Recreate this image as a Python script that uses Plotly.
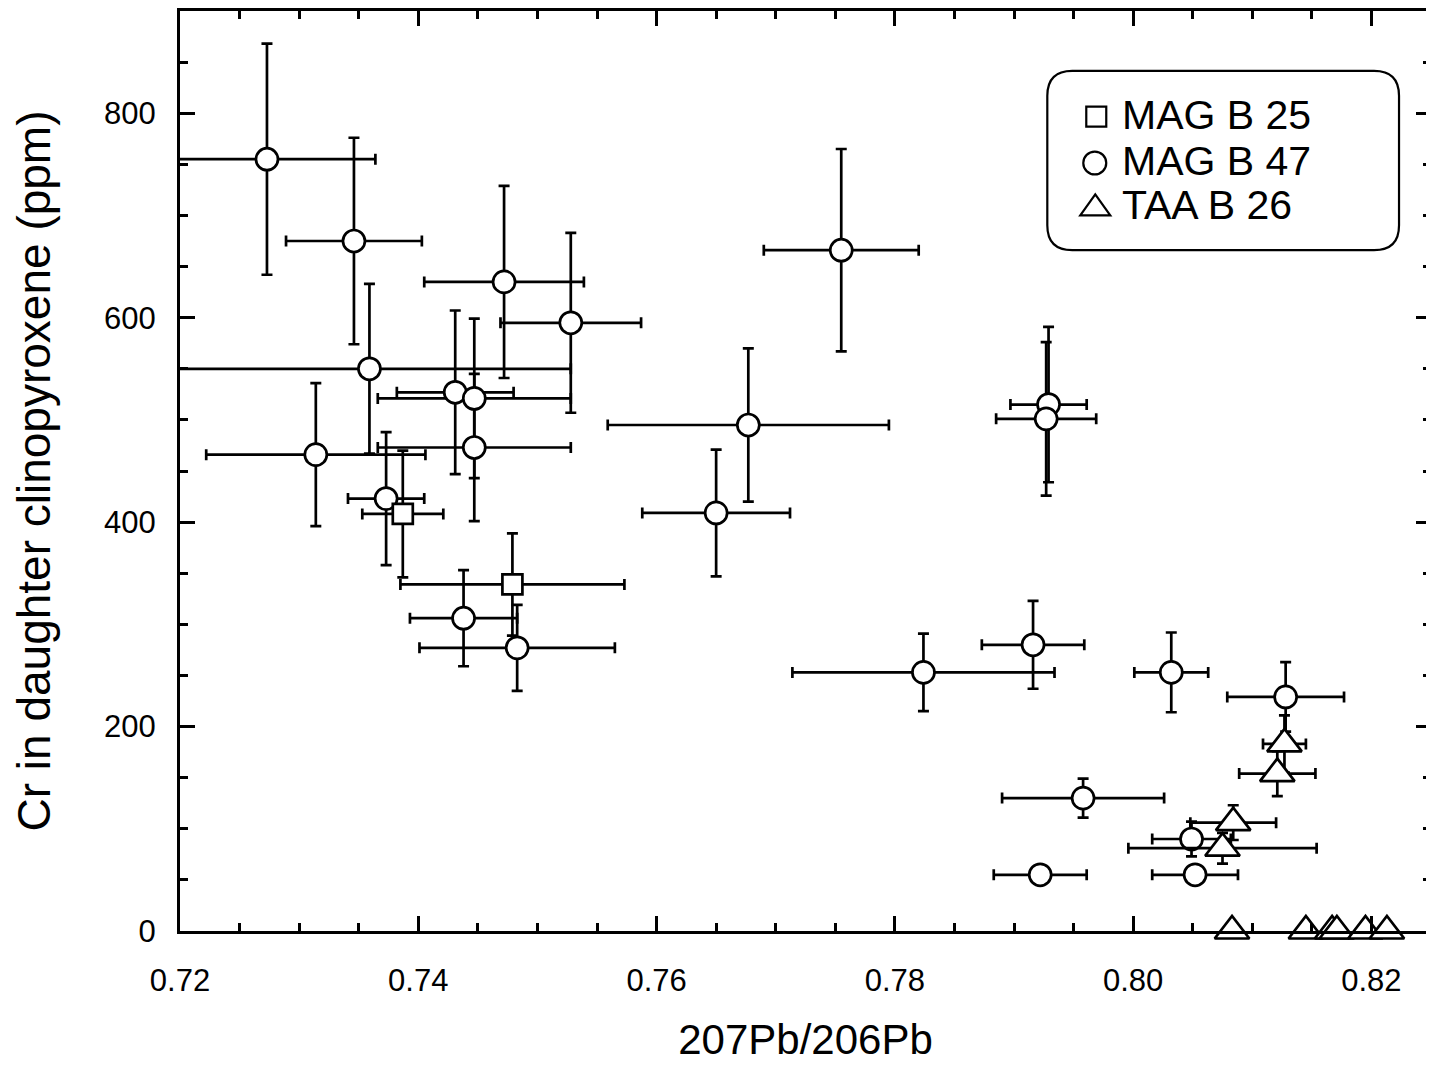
import plotly.graph_objects as go

# ---------------- data ----------------
# MAG B 25 (squares)
b25_x = [0.7387, 0.7479]
b25_y = [408, 339]
b25_xerr = [0.0034, 0.0094]
b25_yerr = [62, 50]

# MAG B 47 (circles)
b47_x = [0.7273, 0.7346, 0.7472, 0.7528, 0.7359, 0.7314, 0.7431, 0.7447, 0.7447,
         0.7373, 0.7438, 0.7483, 0.7677, 0.7650, 0.7755, 0.7824, 0.7916, 0.7929,
         0.7927, 0.8032, 0.8128, 0.8049, 0.8052, 0.7922, 0.7958]
b47_y = [755, 675, 635, 595, 550, 466, 527, 521, 473,
         423, 306, 277, 495, 409, 666, 253, 280, 515,
         501, 253, 229, 90, 55, 55, 130]
b47_xerr = [0.0091, 0.0057, 0.0067, 0.0059, 0.0169, 0.0092, 0.0049, 0.0081, 0.0081,
            0.0032, 0.0045, 0.0082, 0.0118, 0.0062, 0.0065, 0.0110, 0.0043, 0.0032,
            0.0042, 0.0031, 0.0049, 0.0033, 0.0036, 0.0039, 0.0068]
b47_yerr = [113, 101, 94, 88, 83, 70, 80, 78, 72,
            65, 47, 42, 75, 62, 99, 38, 43, 76,
            75, 39, 34, 17, 0, 0, 19]

# TAA B 26 (triangles)
b26_x = [0.8127, 0.8121, 0.8084, 0.8075]
b26_y = [183, 154, 106, 81]
b26_xerr = [0.0018, 0.0032, 0.0036, 0.0079]
b26_yerr = [28, 22, 17, 15]
# TAA B 26 analyses plotted on the axis (Cr = 0)
b26_zero_x = [0.8083, 0.8145, 0.8167, 0.8171, 0.8195, 0.8213]
b26_zero_y = [0, 0, 0, 0, 0, 0]

series_names = ["MAG B 25", "MAG B 47", "TAA B 26"]

x_ticks = [0.72, 0.74, 0.76, 0.78, 0.80, 0.82]
x_ticklabels = ["0.72", "0.74", "0.76", "0.78", "0.80", "0.82"]
y_ticks = [0, 200, 400, 600, 800]

# ---------------- styling ----------------
FONT = "Liberation Sans, Arial, Helvetica, sans-serif"
INK = "black"
ERR_W = 2.7
CAP = 5.5
MLW = 2.7


def err(vals):
    return dict(type="data", array=vals, visible=True, color=INK,
                thickness=ERR_W, width=CAP)


fig = go.Figure()

fig.add_trace(go.Scatter(
    x=b47_x, y=b47_y, mode="markers", name=series_names[1],
    error_x=err(b47_xerr), error_y=err(b47_yerr),
    marker=dict(symbol="circle", size=22, color="white",
                line=dict(color=INK, width=MLW)),
    cliponaxis=True,
))
fig.add_trace(go.Scatter(
    x=b25_x, y=b25_y, mode="markers", name=series_names[0],
    error_x=err(b25_xerr), error_y=err(b25_yerr),
    marker=dict(symbol="square", size=20, color="white",
                line=dict(color=INK, width=MLW)),
    cliponaxis=True,
))
fig.add_trace(go.Scatter(
    x=b26_x, y=b26_y, mode="markers", name=series_names[2],
    error_x=err(b26_xerr), error_y=err(b26_yerr),
    marker=dict(symbol="triangle-up", size=30, color="white",
                line=dict(color=INK, width=MLW)),
    cliponaxis=True,
))
fig.add_trace(go.Scatter(
    x=b26_zero_x, y=b26_zero_y, mode="markers", name=series_names[2],
    marker=dict(symbol="triangle-up", size=30, color="white",
                line=dict(color=INK, width=MLW)),
    cliponaxis=False,
))

# ---------------- page geometry ----------------
# the browser puts the figure 8 px in from the page's top-left corner
PAGE_OFF = 8
PAGE_W, PAGE_H = 1434, 1068
PLOT_L, PLOT_R, PLOT_T, PLOT_B = 180, 1432, 8, 931   # plot area on the page
W, H = PAGE_W - PAGE_OFF, PAGE_H - PAGE_OFF
ML = PLOT_L - PAGE_OFF
MT = PLOT_T - PAGE_OFF
MR = W - (PLOT_R - PAGE_OFF)
MB = H - (PLOT_B - PAGE_OFF)
PW, PH = PLOT_R - PLOT_L, PLOT_B - PLOT_T


def px2paper(px, py):
    return (px - PLOT_L) / PW, (PLOT_B - py) / PH


def rounded_box(x0, y0, x1, y1, r):
    rx, ry = r / PW, r / PH
    a0, b1 = px2paper(x0, y0)
    a1, b0 = px2paper(x1, y1)
    return (f"M {a0+rx},{b1} L {a1-rx},{b1} Q {a1},{b1} {a1},{b1-ry} "
            f"L {a1},{b0+ry} Q {a1},{b0} {a1-rx},{b0} "
            f"L {a0+rx},{b0} Q {a0},{b0} {a0},{b0+ry} "
            f"L {a0},{b1-ry} Q {a0},{b1} {a0+rx},{b1} Z")


# ---------------- legend (drawn by hand: rounded frame) ----------------
fig.add_shape(type="path", xref="paper", yref="paper",
              path=rounded_box(1048, 68, 1400, 248, 25),
              line=dict(color=INK, width=2.2), fillcolor="white", layer="below")

LW = 2.2
# square symbol
sx0, sy0 = px2paper(1087, 104)
sx1, sy1 = px2paper(1107, 124)
fig.add_shape(type="rect", xref="paper", yref="paper",
              x0=sx0, y0=sy1, x1=sx1, y1=sy0,
              line=dict(color=INK, width=LW), fillcolor="white")
# circle symbol
cx0, cy0 = px2paper(1084, 149)
cx1, cy1 = px2paper(1107, 172)
fig.add_shape(type="circle", xref="paper", yref="paper",
              x0=cx0, y0=cy1, x1=cx1, y1=cy0,
              line=dict(color=INK, width=LW), fillcolor="white")
# triangle symbol
ta = px2paper(1081, 213)
tb = px2paper(1111, 213)
tc = px2paper(1096, 192)
fig.add_shape(type="path", xref="paper", yref="paper",
              path=f"M {ta[0]},{ta[1]} L {tb[0]},{tb[1]} L {tc[0]},{tc[1]} Z",
              line=dict(color=INK, width=LW), fillcolor="white")

for name, py in zip(series_names, [112, 158, 203]):
    ax_, ay_ = px2paper(1121, py)
    fig.add_annotation(x=ax_, y=ay_, xref="paper", yref="paper",
                       text=name, showarrow=False, xanchor="left", yanchor="middle",
                       font=dict(family=FONT, size=41, color=INK))

axis_common = dict(
    showline=True, linecolor=INK, linewidth=3, mirror="ticks",
    ticks="inside", ticklen=15, tickwidth=3, tickcolor=INK,
    showgrid=False, zeroline=False,
    tickfont=dict(family=FONT, size=31, color=INK),
)

fig.update_layout(
    width=W, height=H,
    margin=dict(l=ML, r=MR, t=MT, b=MB, pad=0),
    paper_bgcolor="white", plot_bgcolor="white",
    font=dict(family=FONT, color=INK),
    showlegend=False,
    xaxis=dict(
        range=[0.72, 0.825], tickvals=x_ticks, ticktext=x_ticklabels,
        minor=dict(dtick=0.005, tick0=0.72, ticks="inside", ticklen=8,
                   tickwidth=2.5, tickcolor=INK),
        ticklabelstandoff=20,
        title=dict(text="207Pb/206Pb", font=dict(family=FONT, size=42, color=INK),
                   standoff=28),
        **axis_common,
    ),
    yaxis=dict(
        range=[0, 900], tickvals=y_ticks,
        minor=dict(dtick=50, tick0=0, ticks="inside", ticklen=8,
                   tickwidth=2.5, tickcolor=INK),
        ticklabelstandoff=15,
        title=dict(text="Cr in daughter clinopyroxene (ppm)",
                   font=dict(family=FONT, size=46, color=INK), standoff=50),
        **axis_common,
    ),
)

fig.write_html("out.html")
